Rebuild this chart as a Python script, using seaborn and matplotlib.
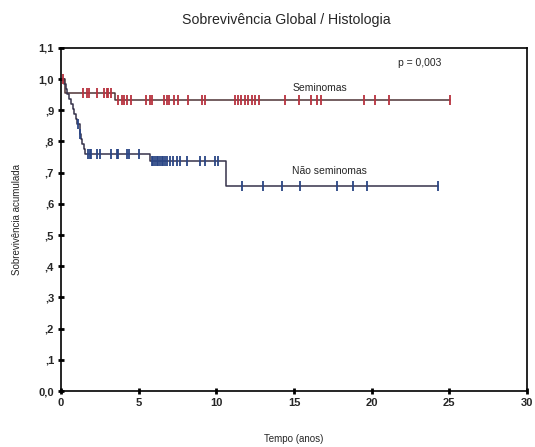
import numpy as np
import pandas as pd
import matplotlib
matplotlib.use('Agg')
import matplotlib.pyplot as plt
import seaborn as sns

# Kaplan-Meier step data (time in years)
sem_time = [0.0, 0.26, 3.45]
sem_surv = [1.0, 0.956, 0.934]
sem_censor = [0.1, 1.4, 1.65, 1.8, 2.3, 2.8, 2.95, 3.05, 3.2,
              3.7, 3.9, 4.05, 4.25, 4.5, 5.5, 5.7, 5.85, 6.6, 6.8, 6.95,
              7.3, 7.55, 8.2, 9.05, 9.25, 11.2, 11.4, 11.6, 11.85, 12.05,
              12.3, 12.5, 12.75, 14.4, 15.3, 16.1, 16.5, 16.75, 19.5, 20.2,
              21.1, 25.05]

nsem_time = [0.0, 0.2, 0.3, 0.4, 0.5, 0.65, 0.75, 0.85, 0.95, 1.05,
             1.2, 1.28, 1.38, 1.47, 1.55, 5.75, 10.65]
nsem_surv = [1.0, 0.984, 0.968, 0.952, 0.936, 0.920, 0.904, 0.888, 0.872, 0.856,
             0.824, 0.808, 0.792, 0.776, 0.760, 0.738, 0.658]
nsem_censor = [1.1, 1.22, 1.75, 1.85, 1.95, 2.35, 2.5, 3.25, 3.6, 3.7, 4.25, 4.4, 5.0,
               5.85, 5.95, 6.05, 6.15, 6.27, 6.37, 6.48, 6.59, 6.7, 6.8, 7.02,
               7.23, 7.45, 7.66, 8.1, 8.95, 9.27, 9.92, 10.13,
               11.63, 13.03, 14.2, 15.4, 17.75, 18.8, 19.7, 24.3]

y_ticks = [0.0, 0.1, 0.2, 0.3, 0.4, 0.5, 0.6, 0.7, 0.8, 0.9, 1.0, 1.1]
y_tick_labels = ['0,0', ',1', ',2', ',3', ',4', ',5', ',6', ',7', ',8', ',9', '1,0', '1,1']
x_ticks = [0, 5, 10, 15, 20, 25, 30]


def step_frame(times, surv, censor):
    t = list(times) + [max(censor)]
    s = list(surv) + [surv[-1]]
    return pd.DataFrame({'t': t, 's': s})


def censor_frame(times, surv, censor):
    idx = np.searchsorted(times, censor, side='right') - 1
    return pd.DataFrame({'t': censor, 's': np.array(surv)[idx]})


sns.set_style('ticks')
plt.rcParams['font.family'] = ['Liberation Sans Narrow', 'Liberation Sans', 'DejaVu Sans']

fig = plt.figure(figsize=(5.35, 4.47), dpi=100)
ax = fig.add_axes([0.114, 0.125, 0.871, 0.768])

sem_line = step_frame(sem_time, sem_surv, sem_censor)
nsem_line = step_frame(nsem_time, nsem_surv, nsem_censor)
sns.lineplot(data=sem_line, x='t', y='s', ax=ax, color='#4e3335', linewidth=1.1,
             drawstyle='steps-post', estimator=None, sort=False)
sns.lineplot(data=nsem_line, x='t', y='s', ax=ax, color='#35324a', linewidth=1.1,
             drawstyle='steps-post', estimator=None, sort=False)

sem_c = censor_frame(sem_time, sem_surv, sem_censor)
nsem_c = censor_frame(nsem_time, nsem_surv, nsem_censor)
sns.scatterplot(data=sem_c, x='t', y='s', ax=ax, marker='|', s=55, color='#b8323e',
                linewidth=1.3, zorder=3)
sns.scatterplot(data=nsem_c, x='t', y='s', ax=ax, marker='|', s=55, color='#2a4585',
                linewidth=1.3, zorder=3)

ax.set_xlim(0, 30)
ax.set_ylim(0, 1.1)
ax.set_xticks(x_ticks)
ax.set_xticklabels([str(v) for v in x_ticks], fontsize=8, fontweight='bold')
ax.set_yticks(y_ticks)
ax.set_yticklabels(y_tick_labels, fontsize=8, fontweight='bold')
ax.tick_params(direction='inout', length=4, width=2, color='black', pad=3)
for sp in ax.spines.values():
    sp.set_visible(True)
    sp.set_color('black')
    sp.set_linewidth(1.2)

ax.set_xlabel('Tempo (anos)', fontsize=7, labelpad=19)
ax.set_ylabel('Sobrevivência acumulada', fontsize=7, labelpad=12)

ax.text(23.1, 1.05, 'p = 0,003', fontsize=7.5, ha='center', va='center')
ax.text(16.7, 0.97, 'Seminomas', fontsize=7.5, ha='center', va='center')
ax.text(17.3, 0.705, 'Não seminomas', fontsize=7.5, ha='center', va='center')

fig.text(0.535, 0.955, 'Sobrevivência Global / Histologia', fontsize=10.2,
         ha='center', va='center')

fig.savefig('out.png', dpi=100)
